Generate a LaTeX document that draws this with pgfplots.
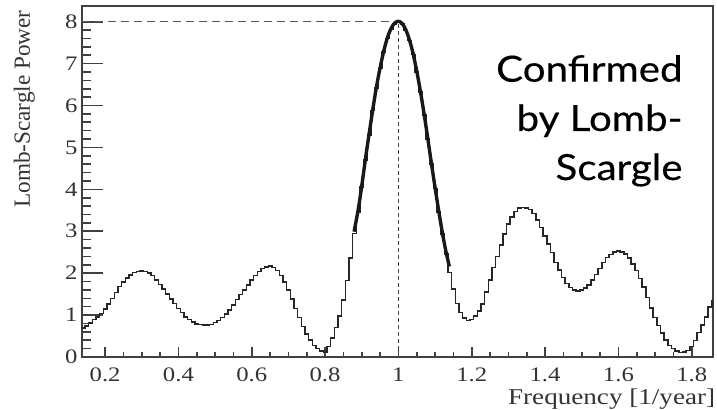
\documentclass[border=0pt]{standalone}
\usepackage{pgfplots}
\pgfplotsset{compat=1.18}
\usepackage{pgfplotstable}
\usepackage{fontspec}
\usetikzlibrary{calc}
\setmainfont{Liberation Serif}
\newfontfamily\wideserif[FakeStretch=1.2]{Liberation Serif}
\newfontfamily\gill[FakeStretch=1.12, FakeBold=0.3]{Lato}

\pgfplotstableread{
x y
0.13 0.65
0.14 0.69
0.15 0.74
0.16 0.81
0.17 0.89
0.18 0.96
0.19 1.04
0.20 1.14
0.21 1.27
0.22 1.40
0.23 1.54
0.24 1.68
0.25 1.79
0.26 1.88
0.27 1.96
0.28 2.02
0.29 2.04
0.30 2.05
0.31 2.04
0.32 2.00
0.33 1.94
0.34 1.84
0.35 1.73
0.36 1.62
0.37 1.50
0.38 1.38
0.39 1.28
0.40 1.16
0.41 1.06
0.42 0.96
0.43 0.89
0.44 0.83
0.45 0.79
0.46 0.77
0.47 0.76
0.48 0.76
0.49 0.78
0.50 0.82
0.51 0.87
0.52 0.94
0.53 1.03
0.54 1.12
0.55 1.24
0.56 1.37
0.57 1.49
0.58 1.60
0.59 1.72
0.60 1.84
0.61 1.95
0.62 2.04
0.63 2.11
0.64 2.15
0.65 2.17
0.66 2.14
0.67 2.06
0.68 1.94
0.69 1.79
0.70 1.60
0.71 1.38
0.72 1.16
0.73 0.94
0.74 0.73
0.75 0.55
0.76 0.40
0.77 0.28
0.78 0.20
0.79 0.14
0.80 0.12
0.81 0.25
0.82 0.45
0.83 0.70
0.84 0.98
0.85 1.36
0.86 1.82
0.87 2.36
0.88 2.95
0.89 3.45
0.90 4.06
0.91 4.70
0.92 5.30
0.93 5.88
0.94 6.42
0.95 6.88
0.96 7.28
0.97 7.60
0.98 7.82
0.99 7.95
1.00 8.00
1.01 7.94
1.02 7.79
1.03 7.55
1.04 7.22
1.05 6.80
1.06 6.32
1.07 5.78
1.08 5.20
1.09 4.60
1.10 4.02
1.11 3.46
1.12 2.94
1.13 2.46
1.14 2.02
1.15 1.62
1.16 1.28
1.17 1.06
1.18 0.93
1.19 0.87
1.20 0.89
1.21 0.98
1.22 1.10
1.23 1.27
1.24 1.55
1.25 1.84
1.26 2.13
1.27 2.40
1.28 2.67
1.29 2.93
1.30 3.17
1.31 3.34
1.32 3.47
1.33 3.55
1.34 3.57
1.35 3.56
1.36 3.52
1.37 3.42
1.38 3.27
1.39 3.09
1.40 2.89
1.41 2.70
1.42 2.49
1.43 2.26
1.44 2.08
1.45 1.90
1.46 1.75
1.47 1.66
1.48 1.60
1.49 1.58
1.50 1.60
1.51 1.65
1.52 1.72
1.53 1.84
1.54 1.97
1.55 2.11
1.56 2.25
1.57 2.37
1.58 2.45
1.59 2.51
1.60 2.53
1.61 2.51
1.62 2.46
1.63 2.36
1.64 2.22
1.65 2.06
1.66 1.87
1.67 1.67
1.68 1.42
1.69 1.17
1.70 0.94
1.71 0.75
1.72 0.57
1.73 0.41
1.74 0.28
1.75 0.20
1.76 0.14
1.77 0.11
1.78 0.12
1.79 0.16
1.80 0.25
1.81 0.39
1.82 0.58
1.83 0.76
1.84 0.96
1.85 1.19
1.86 1.35
1.87 1.50
}\lsdata

\pgfplotstableread{
x y
0.879 2.99
0.89 3.50
0.90 4.08
0.91 4.72
0.92 5.32
0.93 5.90
0.94 6.44
0.95 6.90
0.96 7.30
0.97 7.62
0.98 7.84
0.99 7.97
1.00 8.01
1.01 7.96
1.02 7.81
1.03 7.57
1.04 7.24
1.05 6.82
1.06 6.34
1.07 5.80
1.08 5.22
1.09 4.62
1.10 4.04
1.11 3.48
1.12 2.96
1.13 2.50
1.139 2.16
}\fitdata

\begin{document}
\begin{tikzpicture}
\begin{axis}[
  scale only axis,
  width=315.5pt, height=175.5pt,
  xmin=0.137, xmax=1.858, ymin=0, ymax=8.375,
  axis line style={black!75, line width=0.8pt},
  tick align=inside, tick pos=left,
  xtick={0.2,0.4,0.6,0.8,1,1.2,1.4,1.6,1.8},
  minor x tick num=3,
  ytick={0,1,2,3,4,5,6,7,8},
  minor y tick num=4,
  tick style={black!75, line width=0.8pt},
  major tick length=5pt, minor tick length=2.5pt,
  ytick style={/pgfplots/major tick length=10.5pt, /pgfplots/minor tick length=4.7pt},
  /pgf/number format/assume math mode=true,
  ticklabel style={font=\wideserif\fontsize{10.3}{12}\selectfont, text=black!80},
  xticklabel style={yshift=-2pt},
  yticklabel style={inner sep=2pt},
  xlabel={Frequency [1/year]},
  xlabel style={at={($(rel axis cs:1,0)+(0,-24pt)$)}, anchor=base east, inner sep=0pt,
    font=\wideserif\fontsize{11.3}{13}\selectfont, text=black!80},
  ylabel={Lomb-Scargle Power},
  ylabel style={at={($(rel axis cs:0,1)+(-26pt,-2pt)$)}, anchor=base east, inner sep=0pt,
    font=\fontsize{11.6}{13}\selectfont, text=black!80},
  clip=true,
]
\addplot[black!65, line width=0.7pt, dash pattern=on 4pt off 2.5pt] coordinates {(0.137,8) (1,8)};
\addplot[black!75, line width=0.7pt, dash pattern=on 2pt off 1.5pt] coordinates {(1,0) (1,8)};
\addplot[const plot mark mid, draw=black!85, line width=0.75pt] table {\lsdata};
\addplot[smooth, black!90, line width=1.7pt] table {\fitdata};
\node[anchor=base east, inner sep=0pt, font=\gill\fontsize{18}{20}\selectfont] at (axis cs:1.776,6.569) {Confirmed};
\node[anchor=base east, inner sep=0pt, font=\gill\fontsize{18}{20}\selectfont] at (axis cs:1.776,5.393) {by Lomb-};
\node[anchor=base east, inner sep=0pt, font=\gill\fontsize{18}{20}\selectfont] at (axis cs:1.776,4.223) {Scargle};
\end{axis}
\pgfresetboundingbox
\path[use as bounding box] (-41pt,-26.5pt) rectangle (317.5pt,178.5pt);
\end{tikzpicture}
\end{document}
